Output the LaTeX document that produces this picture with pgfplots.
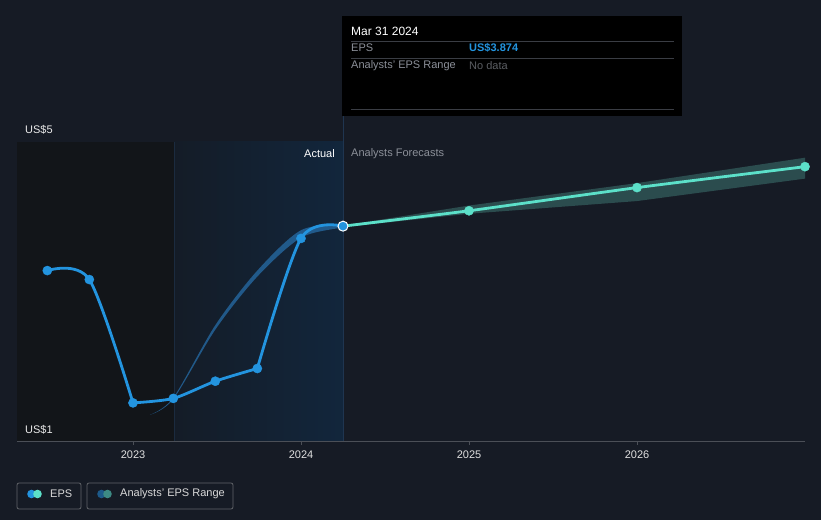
\documentclass[border=0pt]{standalone}
\usepackage{pgfplots}
\pgfplotsset{compat=1.18}
\usepackage{fontspec}
\setmainfont{Liberation Sans}
\definecolor{bg}{HTML}{161B25}
\definecolor{leftreg}{HTML}{121519}
\definecolor{bluel}{HTML}{141C27}
\definecolor{bluer}{HTML}{12263C}
\definecolor{gridc}{HTML}{30343C}
\definecolor{axisc}{HTML}{4B4F57}
\definecolor{epsblue}{HTML}{2394DF}
\definecolor{epsmint}{HTML}{5CE0C9}
\definecolor{pastband}{HTML}{24649A}
\definecolor{foreband}{HTML}{2B4C4E}
\definecolor{txtgray}{HTML}{8C9099}
\definecolor{sepc}{HTML}{3A3D44}
\definecolor{vline}{HTML}{1F3550}
\definecolor{leg2a}{HTML}{1D5A8A}
\definecolor{leg2b}{HTML}{3D8A84}
% x = year - 2022
\pgfplotstableread{
x y
0.49 3.28
0.74 3.16
1.00 1.51
1.24 1.57
1.49 1.80
1.74 1.97
2.00 3.71
2.25 3.874
}\actual
\pgfplotstableread{
x y
0.49 3.28
0.74 3.16
1.00 1.51
}\actualA
\pgfplotstableread{
x y
1.00 1.51
1.24 1.57
1.49 1.80
1.74 1.97
}\actualB
\pgfplotstableread{
x y
1.74 1.97
2.00 3.71
2.25 3.874
}\actualC
\pgfplotstableread{
x y
2.25 3.874
3.00 4.08
4.00 4.39
5.00 4.67
}\forecast
\pgfplotstableread{
x y
3.00 4.08
4.00 4.39
5.00 4.67
}\forecastmarks
\pgfplotstableread{
x y
1.10 1.35
1.24 1.58
1.49 2.55
1.74 3.28
2.00 3.82
2.25 3.89
2.25 3.86
2.00 3.72
1.74 3.20
1.49 2.49
1.24 1.56
1.10 1.35
}\pastband
\pgfplotstableread{
x y
2.25 3.88
3.00 4.15
4.00 4.45
5.00 4.79
5.00 4.51
4.00 4.21
3.00 4.04
2.25 3.86
}\foreband
\begin{document}
\fontsize{11}{13}\selectfont
\begin{tikzpicture}
\fill[bg] (0pt,0pt) rectangle (821pt,520pt);
\useasboundingbox (0pt,0pt) rectangle (821pt,520pt);
\fill[leftreg] (17pt,79pt) rectangle (174pt,378pt);
\shade[left color=bluel, right color=bluer] (174pt,79pt) rectangle (343pt,378pt);
\draw[vline!60!bluel, line width=0.8pt] (174pt,79pt) -- (174pt,378pt);
\draw[vline, line width=1pt] (343pt,79pt) -- (343pt,404pt);
\begin{axis}[
  at={(17pt,79pt)}, anchor=south west,
  scale only axis, width=788pt, height=299pt,
  xmin=0.3095, xmax=5.0, ymin=1, ymax=5,
  axis x line=bottom, axis y line=none,
  x axis line style={color=axisc, line width=0.8pt, -},
  xtick={1,2,3,4},
  xticklabels={2023,2024,2025,2026},
  x tick label style={color=white!88!black, font=\fontsize{11}{13}\selectfont, yshift=-2pt},
  major tick length=4pt,
  xtick style={color=axisc, line width=0.8pt},
  tick align=outside,
  ytick={1,2,3,4,5}, yticklabels={},
  ymajorgrids, grid style={color=gridc, line width=0.8pt},
  clip=true,
]
\addplot[fill=pastband, fill opacity=0.85, draw=none, smooth, tension=0.5] table[x=x,y=y] {\pastband};
\addplot[fill=foreband, draw=none] table[x=x,y=y] {\foreband};
\addplot[color=epsblue, line width=2.8pt, smooth, tension=0.5, line cap=round] table[x=x,y=y] {\actualA};
\addplot[color=epsblue, line width=2.8pt, smooth, tension=0.45, line cap=round] table[x=x,y=y] {\actualB};
\addplot[color=epsblue, line width=2.8pt, smooth, tension=0.5, line cap=round] table[x=x,y=y] {\actualC};
\addplot[only marks, mark=*, mark size=4.6pt, mark options={fill=epsblue, draw=epsblue}] table[x=x,y=y] {\actual};
\addplot[color=epsmint, line width=2.8pt, smooth, tension=0.3] table[x=x,y=y] {\forecast};
\addplot[only marks, mark=*, mark size=4.6pt, mark options={fill=epsmint, draw=epsmint}] table[x=x,y=y] {\forecastmarks};
\addplot[only marks, mark=*, mark size=5pt, mark options={fill=epsblue, draw=white, line width=1pt}] coordinates {(2.25,3.874)};
\end{axis}
\node[anchor=west, text=white!92!black, inner sep=0] at (25pt,390pt) {US\$5};
\node[anchor=west, text=white!92!black, inner sep=0] at (25pt,90pt) {US\$1};
\node[anchor=east, text=white, inner sep=0] at (335pt,366pt) {Actual};
\node[anchor=west, text=txtgray, inner sep=0] at (351pt,366pt) {Analysts Forecasts};
\fill[black] (342pt,404pt) rectangle (682pt,504pt);
\draw[sepc, line width=0.8pt] (351pt,479pt) -- (674pt,479pt);
\draw[sepc, line width=0.8pt] (351pt,462pt) -- (674pt,462pt);
\draw[sepc, line width=0.8pt] (351pt,411pt) -- (674pt,411pt);
\node[anchor=west, text=white, inner sep=0, font=\fontsize{12}{14}\selectfont] at (351pt,489pt) {Mar 31 2024};
\node[anchor=west, text=txtgray, inner sep=0] at (351pt,472pt) {EPS};
\node[anchor=west, text=epsblue, inner sep=0] at (469pt,472pt) {\bfseries US\$3.874};
\node[anchor=west, text=txtgray, inner sep=0] at (351pt,454pt) {Analysts' EPS Range};
\node[anchor=west, text=txtgray!65!black, inner sep=0] at (469pt,454pt) {No data};
\draw[sepc!80!white, rounded corners=2pt, line width=0.8pt] (17pt,11pt) rectangle (81pt,37pt);
\draw[sepc!80!white, rounded corners=2pt, line width=0.8pt] (87pt,11pt) rectangle (233pt,37pt);
\fill[epsblue] (31.5pt,26pt) circle (4.3pt);
\fill[epsmint] (37.5pt,26pt) circle (4.3pt);
\node[anchor=west, text=white!85!black, inner sep=0] at (50pt,26pt) {EPS};
\fill[leg2a] (101.5pt,26pt) circle (4.3pt);
\fill[leg2b] (107.5pt,26pt) circle (4.3pt);
\node[anchor=west, text=white!85!black, inner sep=0] at (120pt,26pt) {Analysts' EPS Range};
\end{tikzpicture}
\end{document}
